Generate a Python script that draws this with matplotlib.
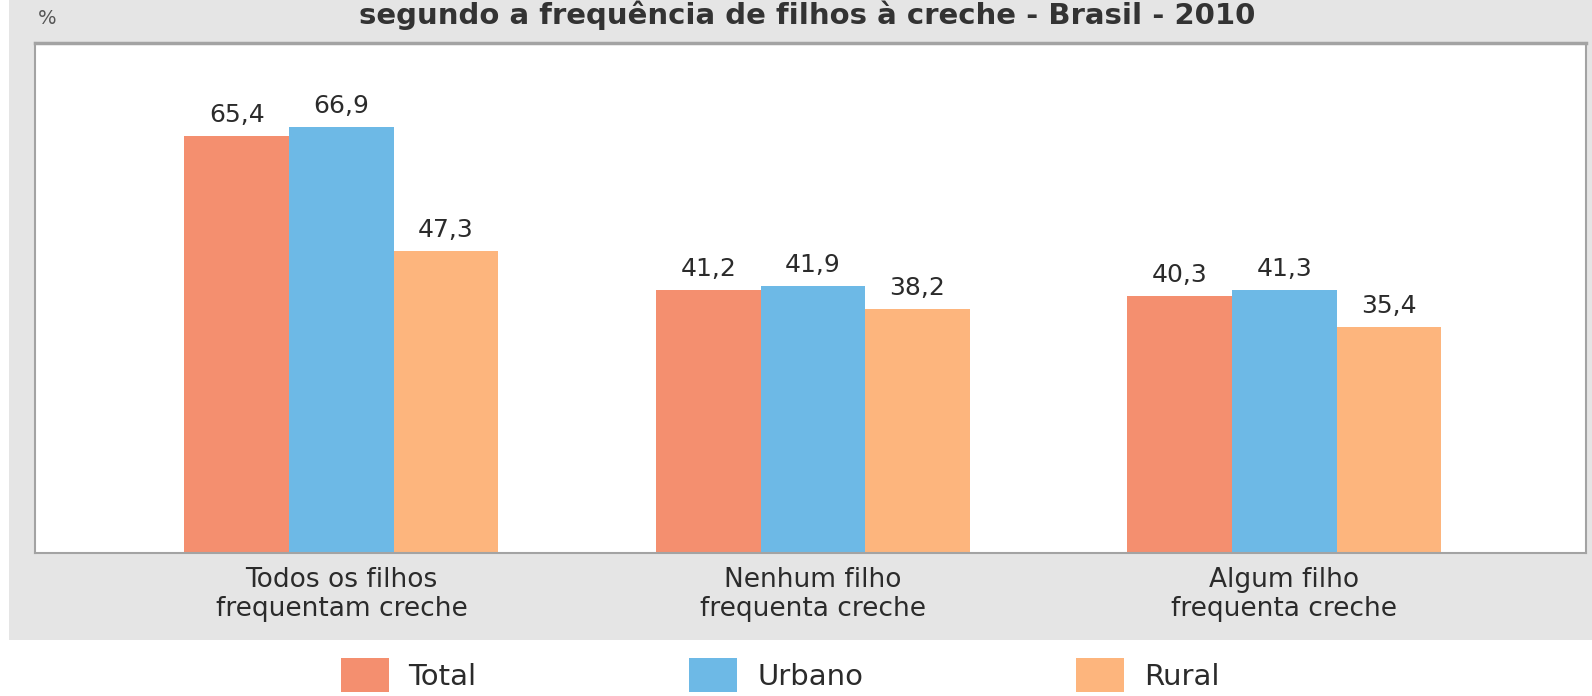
import matplotlib
matplotlib.use("Agg")
import matplotlib.pyplot as plt
from matplotlib.patches import Patch, Rectangle
import numpy as np

categories = ["Todos os filhos\nfrequentam creche",
              "Nenhum filho\nfrequenta creche",
              "Algum filho\nfrequenta creche"]
series_names = ["Total", "Urbano", "Rural"]
total = [65.4, 41.2, 40.3]
urbano = [66.9, 41.9, 41.3]
rural = [47.3, 38.2, 35.4]
colors = ["#f48f6f", "#6db9e6", "#fdb57d"]
title = "segundo a frequência de filhos à creche - Brasil - 2010"

plt.rcParams['font.family'] = ['DejaVu Sans']
W, H = 1592, 696
fig = plt.figure(figsize=(W/100, H/100), dpi=100)
fig.patch.set_facecolor("white")

# gray panel background
fig.patches.append(Rectangle((9/W, 1-640/H), 1-9/W, 640/H, transform=fig.transFigure,
                             facecolor="#e5e5e5", edgecolor="none", zorder=-10))

ax = fig.add_axes([35/W, 1-553/H, (1586-35)/W, (553-43)/H])
ax.set_facecolor("white")
x = np.arange(len(categories))
w = 0.222
for i, (vals, c) in enumerate(zip([total, urbano, rural], colors)):
    bars = ax.bar(x + (i-1)*w, vals, width=w, color=c, edgecolor="none", zorder=2)
    for b, v in zip(bars, vals):
        ax.annotate(f"{v:.1f}".replace(".", ","), (b.get_x()+b.get_width()/2, v),
                    xytext=(0, 9), textcoords="offset pixels", ha="center", va="bottom",
                    fontsize=18, color="#2b2b2b")

ax.set_xlim(-0.65, 2.64)
ax.set_ylim(0, 80)
ax.set_yticks([])
ax.set_xticks(x)
ax.set_xticklabels(categories, fontsize=19, color="#2b2b2b", linespacing=1.15)
ax.tick_params(axis="x", length=0, pad=10)
for s in ax.spines.values():
    s.set_color("#a3a3a3")
    s.set_linewidth(1.5)
ax.spines["top"].set_linewidth(2.5)

fig.text(38/W, 1-18/H, "%", fontsize=14, color="#555555", ha="left", va="center")
fig.text(807/W, 1-1/H, title, fontsize=21, fontweight="bold", color="#333333",
         ha="center", va="top")

handles = [Patch(facecolor=c, edgecolor="none") for c in colors]
fig.legend(handles, series_names, loc="center", bbox_to_anchor=(780/W, 1-675/H),
           ncol=3, frameon=False, fontsize=21, handlelength=1.64, handleheight=1.37,
           handletextpad=0.68, columnspacing=7.3, borderpad=0, labelcolor="#2b2b2b")

fig.savefig("out.png", dpi=100)
